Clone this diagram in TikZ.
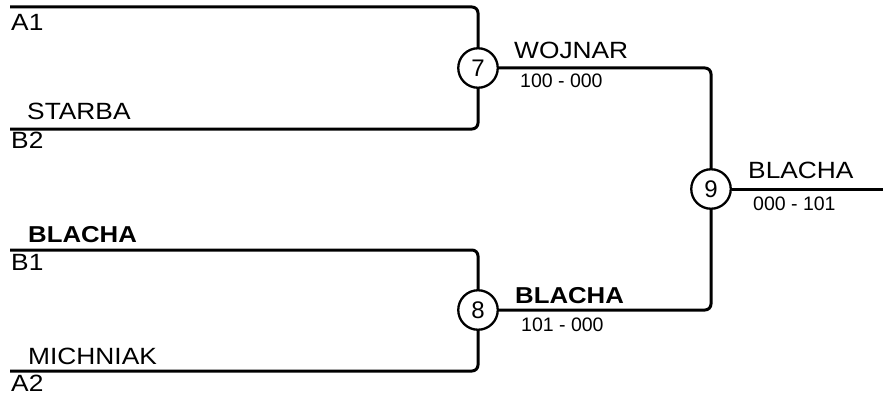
\documentclass[tikz,border=0pt]{standalone}
\usepackage{fontspec}
\setmainfont{Liberation Sans}
\newcommand{\wide}[1]{\scalebox{1.12}[1]{#1}}
\begin{document}
\begin{tikzpicture}[x=1pt,y=-1pt,
  wire/.style={line width=3pt, rounded corners=6pt},
  match/.style={circle, draw, line width=2.3pt, minimum size=39.5pt, inner sep=0pt, fill=white, font=\fontsize{24}{28}\selectfont},
  big/.style={anchor=base west, inner sep=0pt, font=\fontsize{23.5}{28}\selectfont},
  bigb/.style={anchor=base west, inner sep=0pt, font=\fontsize{23}{28}\selectfont\bfseries},
  small/.style={anchor=base west, inner sep=0pt, font=\fontsize{19.5}{23}\selectfont}]
\useasboundingbox (0,0) rectangle (883,396);
% matches
\node[match] (c7) at (478,68) {7};
\node[match] (c8) at (478,310) {8};
\node[match] (c9) at (711,189) {9};
% line starts
\coordinate (s1) at (10,7);
\coordinate (s2) at (10,129);
\coordinate (s3) at (10,250);
\coordinate (s4) at (10,371);
\coordinate (e9) at (883,189);
% connectors
\draw[wire] (s1) -| (c7.north);
\draw[wire] (s2) -| (c7.south);
\draw[wire] (s3) -| (c8.north);
\draw[wire] (s4) -| (c8.south);
\draw[wire] (c7.east) -| (c9.north);
\draw[wire] (c8.east) -| (c9.south);
\draw[wire] (c9.east) -- (e9);
% labels
\node[big] (la1) at (11,30.5) {\wide{A1}};
\node[big] (lstarba) at (27,119) {\wide{STARBA}};
\node[big] (lb2) at (11,148.5) {\wide{B2}};
\node[bigb] (lblacha1) at (28,242.5) {\wide{BLACHA}};
\node[big] (lb1) at (11,270) {\wide{B1}};
\node[big] (lmich) at (28,364.5) {\wide{MICHNIAK}};
\node[big] (la2) at (11,391.5) {\wide{A2}};
\node[big] (lwoj) at (514,59) {\wide{WOJNAR}};
\node[small] (s7) at (520,87) {100 - 000};
\node[bigb] (lblacha2) at (515,303) {\wide{BLACHA}};
\node[small] (s8) at (521,331) {101 - 000};
\node[big] (lblacha3) at (748,178) {\wide{BLACHA}};
\node[small] (s9) at (753,210) {000 - 101};
\end{tikzpicture}
\end{document}
